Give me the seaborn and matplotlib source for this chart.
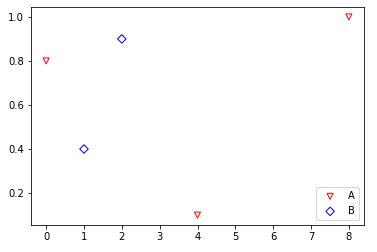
import matplotlib
matplotlib.use("Agg")
import matplotlib.pyplot as plt
import seaborn as sns
import pandas as pd

a_x = [0, 4, 8]
a_y = [0.8, 0.1, 1.0]
b_x = [1, 2]
b_y = [0.4, 0.9]

df_a = pd.DataFrame({"x": a_x, "y": a_y})
df_b = pd.DataFrame({"x": b_x, "y": b_y})

fig, ax = plt.subplots(figsize=(377/72, 252/72), dpi=72)
sns.scatterplot(data=df_a, x="x", y="y", marker="v", s=36, facecolors="none",
                edgecolor="r", linewidth=1.0, label="A", ax=ax)
sns.scatterplot(data=df_b, x="x", y="y", marker="D", s=36, facecolors="none",
                edgecolor="b", linewidth=1.0, label="B", ax=ax)
ax.set_xlabel("")
ax.set_ylabel("")
ax.set_yticks([0.2, 0.4, 0.6, 0.8, 1.0])
ax.legend(loc="lower right")
fig.subplots_adjust(left=31/377, right=364/377, top=1-7/252, bottom=1-225/252)
fig.savefig("out.png", dpi=72)
